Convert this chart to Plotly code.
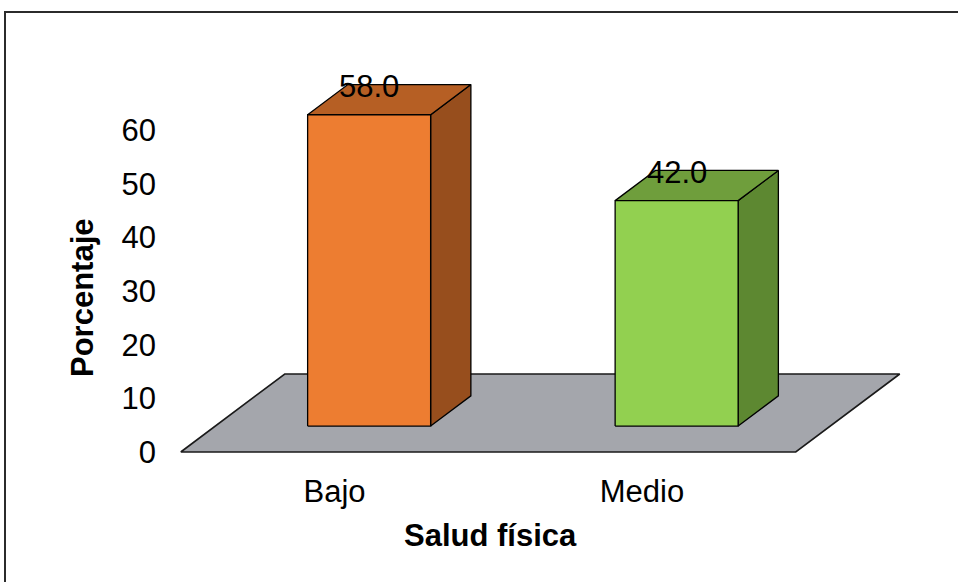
import plotly.graph_objects as go

# ---- data ----
categories = ["Bajo", "Medio"]
values = [58.0, 42.0]
ytick_vals = [0, 10, 20, 30, 40, 50, 60]
ytick_text = ["0", "10", "20", "30", "40", "50", "60"]
x_title = "Salud física"
y_title = "Porcentaje"

# ---- styling / geometry ----
W, H = 958, 582
ML, MR, MT, MB = 157, 0, 0, 112
PX_PER_CAT = 307.5
PX_PER_VAL = 5.367
ZERO_PX_Y = 452          # pixel row of value 0 at depth 0
CAT0_PX_X = 334.5        # pixel column of first category at depth 0
DEPTH_PX_X, DEPTH_PX_Y = 104, 78
DX = DEPTH_PX_X / PX_PER_CAT
DY = DEPTH_PX_Y / PX_PER_VAL
F_DEPTH, B_DEPTH = 0.333, 0.72
HALF_W = 0.2
FS = 31

front_cols = ["#ED7D31", "#92D050"]
top_cols = ["#B65F24", "#6F9E3C"]
side_cols = ["#974E1D", "#5D8831"]
floor_col = "#A4A6AC"
FONT = "Liberation Sans, Arial, sans-serif"

plot_w = W - ML - MR
plot_h = H - MT - MB
x_range = [(ML - CAT0_PX_X) / PX_PER_CAT, (W - MR - CAT0_PX_X) / PX_PER_CAT]
y_range = [(ZERO_PX_Y - (H - MB)) / PX_PER_VAL, (ZERO_PX_Y - MT) / PX_PER_VAL]


def px_to_paper_x(px):
    return (px - ML) / plot_w


def px_to_paper_y(py):
    return (H - MB - py) / plot_h


fig = go.Figure()


def poly(xs, ys, fill, line_col="#000000", lw=1.3):
    fig.add_trace(go.Scatter(
        x=xs + [xs[0]], y=ys + [ys[0]], mode="lines", fill="toself",
        fillcolor=fill, line=dict(color=line_col, width=lw),
        hoverinfo="skip", showlegend=False))


# floor
n = len(categories)
fx0, fx1 = -0.5, n - 0.5
poly([fx0, fx1, fx1 + DX, fx0 + DX], [0, 0, DY, DY], floor_col, "#1a1a1a", 1.6)

# bars
for i, v in enumerate(values):
    xl_f = i - HALF_W + F_DEPTH * DX
    xr_f = i + HALF_W + F_DEPTH * DX
    xl_b = i - HALF_W + B_DEPTH * DX
    xr_b = i + HALF_W + B_DEPTH * DX
    yb_f, yb_b = F_DEPTH * DY, B_DEPTH * DY
    yt_f, yt_b = v + F_DEPTH * DY, v + B_DEPTH * DY
    # side face
    poly([xr_f, xr_b, xr_b, xr_f], [yb_f, yb_b, yt_b, yt_f], side_cols[i])
    # top face
    poly([xl_f, xr_f, xr_b, xl_b], [yt_f, yt_f, yt_b, yt_b], top_cols[i])
    # front face
    poly([xl_f, xr_f, xr_f, xl_f], [yb_f, yb_f, yt_f, yt_f], front_cols[i])
    # data label
    fig.add_annotation(x=i + F_DEPTH * DX, y=yt_b, text=f"{v:.1f}",
                       showarrow=False, xanchor="center", yanchor="middle",
                       yshift=-2, font=dict(family=FONT, size=FS, color="#000000"))

# axis titles
fig.add_annotation(xref="paper", yref="paper", x=px_to_paper_x(490), y=px_to_paper_y(535),
                   text=f"<b>{x_title}</b>", showarrow=False, xanchor="center", yanchor="middle",
                   font=dict(family=FONT, size=FS, color="#000000"))
fig.add_annotation(xref="paper", yref="paper", x=px_to_paper_x(82), y=px_to_paper_y(298),
                   text=f"<b>{y_title}</b>", showarrow=False, textangle=-90,
                   xanchor="center", yanchor="middle",
                   font=dict(family=FONT, size=FS, color="#000000"))

# outer frame
fig.add_shape(type="rect", xref="paper", yref="paper",
              x0=px_to_paper_x(5), x1=px_to_paper_x(W + 10),
              y0=px_to_paper_y(H + 10), y1=px_to_paper_y(12),
              line=dict(color="#2b2b2b", width=2), fillcolor="rgba(0,0,0,0)", layer="below")

fig.update_layout(
    width=W, height=H,
    margin=dict(l=ML, r=MR, t=MT, b=MB, pad=0),
    paper_bgcolor="white", plot_bgcolor="white",
    font=dict(family=FONT, size=FS, color="#000000"),
    xaxis=dict(range=x_range, tickmode="array", tickvals=list(range(n)), ticktext=categories,
               showgrid=False, zeroline=False, showline=False, ticks="",
               tickfont=dict(size=FS), fixedrange=True),
    yaxis=dict(range=y_range, tickmode="array", tickvals=ytick_vals, ticktext=ytick_text,
               showgrid=False, zeroline=False, showline=False, ticks="",
               tickfont=dict(size=FS), fixedrange=True),
)

fig.write_html("out.html")
